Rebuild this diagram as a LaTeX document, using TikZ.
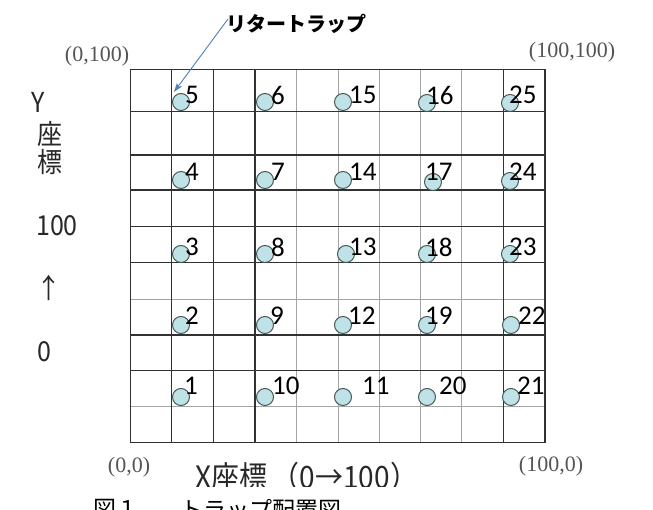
\documentclass[tikz,border=0pt]{standalone}
\usepackage{fontspec}
\setmainfont{Liberation Serif}
\newfontfamily\jpfont{Noto Sans CJK JP}
\newfontfamily\numfont{Carlito}
\usetikzlibrary{arrows.meta}
\definecolor{trapfill}{RGB}{191,226,230}
\definecolor{trapline}{RGB}{70,88,90}
\definecolor{gridgray}{RGB}{165,165,165}
\definecolor{gridblack}{RGB}{50,50,50}
\definecolor{arrowblue}{RGB}{79,129,189}
\definecolor{cornergray}{RGB}{85,85,85}
\definecolor{axisgray}{RGB}{40,40,40}
\begin{document}
\begin{tikzpicture}[x=1pt,y=-1pt,
  trap/.style={circle,draw=trapline,fill=trapfill,line width=1pt,minimum size=17pt,inner sep=0pt},
  numlabel/.style={font=\numfont\fontsize{27}{27}\selectfont,anchor=west,inner sep=0pt},
  darkline/.style={line width=1.3pt,draw=gridblack},
  lightline/.style={line width=0.8pt,draw=gridgray},
  corner/.style={font=\fontsize{22}{22}\selectfont,text=cornergray,inner sep=0pt},
  axislabel/.style={font=\jpfont\fontsize{25}{25}\selectfont,text=axisgray,inner sep=0pt,yscale=1.1},
  caption/.style={font=\jpfont\fontsize{23}{23}\selectfont,anchor=north west,inner sep=0pt,text=black},
]
\useasboundingbox (0,0) rectangle (653,510);
\clip (0,0) rectangle (653,510);
\fill[white] (0,0) rectangle (653,510);

% light grid lines
\foreach \x in {296.7,338.3,379.3,420.5,461.7}
  \draw[lightline] (\x,69.3) -- (\x,442.7);
\foreach \y in {299.3,406.7}
  \draw[lightline] (130.7,\y) -- (545,\y);
% dark grid lines
\foreach \x in {130.7,171.7,213.7,255,503.3,545}
  \draw[darkline] (\x,69.3) -- (\x,442.7);
\foreach \y in {69.3,111.7,155,190,226.7,262.7,335,370.7,442.7}
  \draw[darkline] (130.7,\y) -- (545,\y);

% traps
\node[trap] (t5)  at (181,102) {};
\node[trap] (t6)  at (265,102) {};
\node[trap] (t15) at (343,102) {};
\node[trap] (t16) at (427,103) {};
\node[trap] (t25) at (510,103) {};
\node[trap] (t4)  at (181,180) {};
\node[trap] (t7)  at (265,180) {};
\node[trap] (t14) at (343,180) {};
\node[trap] (t17) at (433,182) {};
\node[trap] (t24) at (510,181) {};
\node[trap] (t3)  at (181,254) {};
\node[trap] (t8)  at (265,254) {};
\node[trap] (t13) at (346,254) {};
\node[trap] (t18) at (427,254) {};
\node[trap] (t23) at (510,254) {};
\node[trap] (t2)  at (181,325) {};
\node[trap] (t9)  at (265,325) {};
\node[trap] (t12) at (343,325) {};
\node[trap] (t19) at (427,325) {};
\node[trap] (t22) at (511,325) {};
\node[trap] (t1)  at (181,397) {};
\node[trap] (t10) at (265,397) {};
\node[trap] (t11) at (343,397) {};
\node[trap] (t20) at (427,397) {};
\node[trap] (t21) at (511,397) {};

% trap numbers
\node[numlabel] (l5)  at (185,95) {5};
\node[numlabel] (l6)  at (271,95) {6};
\node[numlabel] (l15) at (349,95) {15};
\node[numlabel] (l16) at (426,95) {16};
\node[numlabel] (l25) at (509,95) {25};
\node[numlabel] (l4)  at (185,172) {4};
\node[numlabel] (l7)  at (271,172) {7};
\node[numlabel] (l14) at (349,172) {14};
\node[numlabel] (l17) at (425,172) {17};
\node[numlabel] (l24) at (509,172) {24};
\node[numlabel] (l3)  at (185,247) {3};
\node[numlabel] (l8)  at (271,247) {8};
\node[numlabel] (l13) at (349,247) {13};
\node[numlabel] (l18) at (425,247) {18};
\node[numlabel] (l23) at (509,247) {23};
\node[numlabel] (l2)  at (185,316) {2};
\node[numlabel] (l9)  at (270,316) {9};
\node[numlabel] (l12) at (348,316) {12};
\node[numlabel] (l19) at (425,316) {19};
\node[numlabel] (l22) at (518,316) {22};
\node[numlabel] (l1)  at (184,386) {1};
\node[numlabel] (l10) at (272,386) {10};
\node[numlabel] (l11) at (362,386) {11};
\node[numlabel] (l20) at (439,386) {20};
\node[numlabel] (l21) at (517,386) {21};

% corner coordinates
\node[corner] (c1) at (97,56) {(0,100)};
\node[corner] (c2) at (572,52) {(100,100)};
\node[corner] (c3) at (129,467) {(0,0)};
\node[corner] (c4) at (551,466) {(100,0)};

% Y axis label
\node[axislabel] (ya) at (38,102) {Y};
\node[axislabel] (yb) at (50,134) {座};
\node[axislabel] (yc) at (50,162) {標};
\node[axislabel] (yd) at (57,226) {100};
\node[axislabel] (ye) at (49,288) {↑};
\node[axislabel] (yf) at (44,352) {0};

% X axis label (clipped at bottom as in the source)
\begin{scope}
  \clip (150,450) rectangle (470,486);
  \node[axislabel,anchor=west,font=\jpfont\fontsize{28}{28}\selectfont] (xa) at (195,477) {X座標\,（0→100）};
\end{scope}

% caption (cut off by the lower edge, as in the source)
\node[caption] (cap1) at (93,499) {図１};
\node[caption] (cap2) at (180,499) {トラップ配置図};

% title and arrow
\node[font=\jpfont\bfseries\fontsize{20}{20}\selectfont,anchor=west,inner sep=0pt] (title) at (226,24) {リタートラップ};
\coordinate (tip) at (174,92);
\draw[arrowblue,line width=0.9pt,-{Stealth[length=9pt,width=6pt,inset=2pt]}] ([shift={(2,-5)}]title.west) -- (tip);
\end{tikzpicture}
\end{document}
